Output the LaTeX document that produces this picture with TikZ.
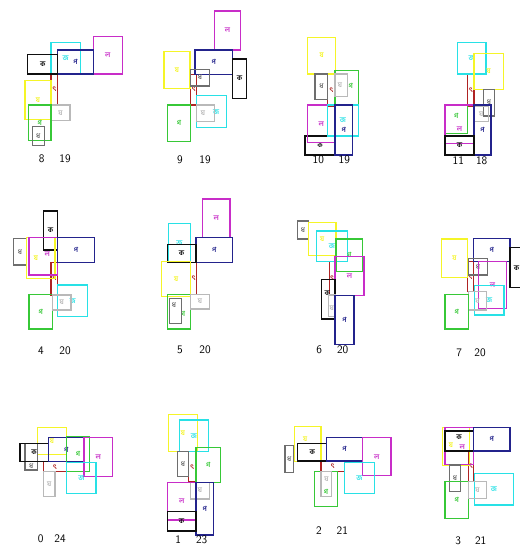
\documentclass[tikz,border=0pt]{standalone}
\usepackage{fontspec}
\newfontfamily\bnfont[Script=Bengali]{Hind Siliguri}
\usetikzlibrary{calc}
\definecolor{rmblk}{RGB}{15,15,15}
\definecolor{rmcya}{RGB}{40,225,230}
\definecolor{rmnav}{RGB}{35,35,140}
\definecolor{rmmag}{RGB}{200,45,200}
\definecolor{rmyel}{RGB}{245,245,40}
\definecolor{rmgrn}{RGB}{55,200,55}
\definecolor{rmgry}{RGB}{110,110,110}
\definecolor{rmlgr}{RGB}{185,185,185}
\definecolor{rmred}{RGB}{175,35,35}
\tikzset{every picture/.style={line width=1pt},
  rmline/.style={line width=1.4pt},
  glyph/.style={font=\bnfont\bfseries\fontsize{7}{7}\selectfont, inner sep=0pt},
  lbl/.style={font=\sffamily\fontsize{11.5}{12}\selectfont, inner sep=0pt}}
% one room: [glyph shift], name, colour, corners, glyph
\newcommand{\rmbox}[8][]{%
  \draw[#3, rmline] (#4,#5) rectangle (#6,#7);
  \node[glyph, text=#3, #1] (#2) at ({(#4+#6)/2},{(#5+#7)/2}) {#8};}

\begin{document}
\begin{tikzpicture}[x=1pt,y=-1pt]
    \fill[white] (0,0) rectangle (520,547);
    \useasboundingbox (0,0) rectangle (520,547);
    % 8 19
    \rmbox{p8red}{rmred}{51}{74}{57.7}{105}{ৎ}
    \rmbox{p8mag}{rmmag}{93.3}{36.7}{122.3}{74}{ল}
    \rmbox{p8cya}{rmcya}{51}{42.7}{80.3}{74}{জ}
    \rmbox{p8nav}{rmnav}{57.7}{50}{93.3}{74}{প}
    \rmbox{p8blk}{rmblk}{27.7}{54.3}{57.7}{74}{ক}
    \rmbox{p8yel}{rmyel}{25}{80.7}{51}{119.3}{য}
    \rmbox{p8lgr}{rmlgr}{51}{105}{70}{120.7}{ঘ}
    \rmbox{p8grn}{rmgrn}{28.3}{105}{51}{140.7}{গ}
    \rmbox{p8gry}{rmgry}{32.3}{126.7}{44.3}{145.7}{ধ}
    \node[lbl] (n8a) at (41.7,158.3) {8};
    \node[lbl] (n8b) at (65,158.3) {19};
    % 9 19
    \rmbox{p9red}{rmred}{190.7}{74.3}{196.7}{105}{ৎ}
    \rmbox{p9mag}{rmmag}{214.3}{11}{240.7}{50}{ল}
    \rmbox{p9nav}{rmnav}{195}{50}{232.3}{74.3}{প}
    \rmbox{p9blk}{rmblk}{232.3}{59}{246.7}{98.3}{ক}
    \rmbox{p9yel}{rmyel}{164}{51.7}{190}{88.3}{য}
    \rmbox{p9gry}{rmgry}{190.7}{69.3}{209.3}{86}{ধ}
    \rmbox{p9grn}{rmgrn}{167.3}{105}{190.7}{141.7}{গ}
    \rmbox[shift={(4.5,0)}]{p9cya}{rmcya}{196.7}{95.7}{226.7}{127.7}{জ}
    \rmbox[shift={(-2.5,0)}]{p9lgr}{rmlgr}{196.7}{105}{214.3}{121.7}{ঘ}
    \node[lbl] (n9a) at (180,160) {9};
    \node[lbl] (n9b) at (205,160) {19};
    % 10 19
    \rmbox{p10red}{rmred}{327.7}{74}{335}{106}{ৎ}
    \rmbox{p10yel}{rmyel}{307.7}{37.3}{335.7}{74}{য}
    \rmbox{p10gry}{rmgry}{315}{74}{327.7}{99.3}{ধ}
    \rmbox[shift={(4,-2)}]{p10grn}{rmgrn}{335}{70.7}{358.3}{105}{গ}
    \rmbox[shift={(-1.5,0)}]{p10lgr}{rmlgr}{335}{74}{347.7}{96.7}{ঘ}
    \rmbox{p10blk}{rmblk}{305}{136}{335}{155}{ক}
    \rmbox{p10mag}{rmmag}{307.7}{105}{335}{142.7}{ল}
    \rmbox{p10cya}{rmcya}{327.7}{105}{358.3}{136}{জ}
    \rmbox{p10nav}{rmnav}{335}{105}{352.3}{155}{প}
    \node[lbl] (n10a) at (318.3,160) {10};
    \node[lbl] (n10b) at (344.3,160) {19};
    % 11 18
    \rmbox{p11red}{rmred}{467.7}{74}{474}{106}{ৎ}
    \rmbox{p11cya}{rmcya}{457.3}{42.7}{486}{74}{জ}
    \rmbox{p11yel}{rmyel}{474}{53.3}{503.3}{89.3}{য}
    \rmbox{p11gry}{rmgry}{483.3}{89.3}{494.3}{116}{ধ}
    \rmbox{p11lgr}{rmlgr}{474}{106}{488.3}{121.7}{ঘ}
    \rmbox[shift={(0,-3)}]{p11grn}{rmgrn}{445}{105}{467.7}{133.3}{গ}
    \rmbox[shift={(0,5)}]{p11mag}{rmmag}{445}{105}{474}{143.3}{ল}
    \rmbox{p11nav}{rmnav}{474}{105}{491}{155}{প}
    \rmbox{p11blk}{rmblk}{445}{136}{474}{155}{ক}
    \node[lbl] (n11a) at (458.3,160.7) {11};
    \node[lbl] (n11b) at (481.7,160.7) {18};
    % 4 20
    \rmbox{p4red}{rmred}{51}{262.3}{57.7}{295}{ৎ}
    \rmbox{p4blk}{rmblk}{43.3}{211}{57.7}{250}{ক}
    \rmbox{p4gry}{rmgry}{13.3}{238.3}{26.7}{265}{ধ}
    \rmbox[shift={(-5,0)}]{p4yel}{rmyel}{26.7}{237.7}{55}{278.3}{য}
    \rmbox[shift={(4,-2)}]{p4mag}{rmmag}{29}{237.7}{57.7}{275}{ল}
    \rmbox{p4nav}{rmnav}{57.7}{237.7}{94.3}{262.3}{প}
    \rmbox{p4grn}{rmgrn}{29}{294.3}{52.3}{329}{গ}
    \rmbox{p4cya}{rmcya}{57.7}{285}{87.7}{316.7}{জ}
    \rmbox{p4lgr}{rmlgr}{52.3}{295}{71}{310}{ঘ}
    \node[lbl] (n4a) at (41,351) {4};
    \node[lbl] (n4b) at (65,351) {20};
    % 5 20
    \rmbox{p5red}{rmred}{190.7}{262.3}{196.7}{294.3}{ৎ}
    \rmbox{p5mag}{rmmag}{202.7}{199}{230}{237.7}{ল}
    \rmbox{p5nav}{rmnav}{196}{237.7}{232.7}{262.3}{প}
    \rmbox{p5cya}{rmcya}{168.3}{223.3}{190.7}{262.3}{জ}
    \rmbox{p5blk}{rmblk}{167.3}{244.3}{196}{262.3}{ক}
    \rmbox{p5yel}{rmyel}{161.7}{261.7}{190.7}{296.7}{য}
    \rmbox[shift={(4,2)}]{p5grn}{rmgrn}{167.3}{294.3}{190.7}{329}{গ}
    \rmbox[shift={(-1.5,-6)}]{p5gry}{rmgry}{169.3}{298.3}{181.7}{323.3}{ধ}
    \rmbox{p5lgr}{rmlgr}{190.7}{294.3}{209.3}{309}{ঘ}
    \node[lbl] (n5a) at (180,350) {5};
    \node[lbl] (n5b) at (205,350) {20};
    % 6 20
    \rmbox{p6red}{rmred}{329.3}{261.7}{335}{295}{ৎ}
    \rmbox{p6gry}{rmgry}{297.3}{221}{308.3}{239}{ধ}
    \rmbox{p6yel}{rmyel}{308.3}{222.3}{336}{255.7}{য}
    \rmbox{p6cya}{rmcya}{316.7}{231}{347.3}{261.7}{জ}
    \rmbox{p6grn}{rmgrn}{336}{239}{362.7}{271.7}{গ}
    \rmbox{p6mag}{rmmag}{335}{256.7}{364}{295.7}{ল}
    \rmbox[shift={(-1,-6)}]{p6blk}{rmblk}{321.7}{279.3}{335}{319}{ক}
    \rmbox[shift={(0,2.5)}]{p6lgr}{rmlgr}{328.3}{295}{335}{316.7}{ঘ}
    \rmbox{p6nav}{rmnav}{335}{295.7}{354}{344.3}{প}
    \node[lbl] (n6a) at (319.3,350) {6};
    \node[lbl] (n6b) at (342.7,350) {20};
    % 7 20
    \rmbox{p7red}{rmred}{467.3}{261.7}{473.3}{291.7}{ৎ}
    \rmbox{p7yel}{rmyel}{441.7}{239}{467.3}{277.7}{য}
    \rmbox{p7nav}{rmnav}{473.3}{238.3}{510}{261.7}{প}
    \rmbox{p7blk}{rmblk}{510}{247.7}{523}{287.7}{ক}
    \rmbox{p7gry}{rmgry}{468.3}{258.3}{487.3}{275}{ধ}
    \rmbox{p7mag}{rmmag}{478.3}{261.7}{506.7}{308.3}{ল}
    \rmbox{p7cya}{rmcya}{474.3}{285.7}{504}{315}{জ}
    \rmbox{p7lgr}{rmlgr}{468.3}{291.7}{486.7}{310}{ঘ}
    \rmbox{p7grn}{rmgrn}{445}{294.3}{468.3}{329}{গ}
    \node[lbl] (n7a) at (459.3,352.3) {7};
    \node[lbl] (n7b) at (480,352.3) {20};
    % 0 24
    \rmbox{p0red}{rmred}{43.3}{461.7}{66.7}{471.7}{ৎ}
    \rmbox{p0yel}{rmyel}{37.3}{427.7}{66.7}{454.3}{য}
    \rmbox[shift={(0,9.5)}]{p0gry}{rmgry}{25}{443.3}{37.3}{470}{ধ}
    \rmbox{p0blk}{rmblk}{20}{443.3}{48.3}{461.7}{ক}
    \rmbox{p0nav}{rmnav}{48.3}{437.7}{84}{461.7}{প}
    \rmbox{p0grn}{rmgrn}{66.7}{436.7}{89.3}{471.7}{গ}
    \rmbox{p0mag}{rmmag}{84}{437.7}{112.7}{476.7}{ল}
    \rmbox{p0cya}{rmcya}{66.7}{462.3}{96}{493.3}{জ}
    \rmbox{p0lgr}{rmlgr}{43.3}{471.7}{55}{496.7}{ঘ}
    \node[lbl] (n0a) at (40.7,539) {0};
    \node[lbl] (n0b) at (60,539) {24};
    % 1 23
    \rmbox{p1red}{rmred}{188.3}{451.7}{196}{481.7}{ৎ}
    \rmbox{p1yel}{rmyel}{168.3}{414.3}{197.3}{451.7}{য}
    \rmbox{p1cya}{rmcya}{179.3}{420}{208.3}{451.7}{জ}
    \rmbox{p1gry}{rmgry}{177.3}{451.7}{188.3}{476.7}{ধ}
    \rmbox{p1grn}{rmgrn}{196}{447.7}{220.7}{482.3}{গ}
    \rmbox{p1lgr}{rmlgr}{190.7}{482.3}{209.3}{499}{ঘ}
    \rmbox{p1mag}{rmmag}{167.3}{482.3}{196}{520}{ল}
    \rmbox{p1nav}{rmnav}{196}{482.3}{213.3}{535}{প}
    \rmbox{p1blk}{rmblk}{167.3}{511.7}{196}{531}{ক}
    \node[lbl] (n1a) at (178.3,540) {1};
    \node[lbl] (n1b) at (201.7,540) {23};
    % 2 21
    \rmbox{p2red}{rmred}{321}{461}{344.3}{471.7}{ৎ}
    \rmbox{p2gry}{rmgry}{285}{445.7}{293.3}{472.3}{ধ}
    \rmbox[shift={(-2.5,-5)}]{p2yel}{rmyel}{294.3}{426.7}{321}{461.7}{য}
    \rmbox{p2blk}{rmblk}{297.7}{443.3}{326.7}{461}{ক}
    \rmbox{p2nav}{rmnav}{326.7}{437.7}{362.3}{461}{প}
    \rmbox{p2mag}{rmmag}{362.3}{437.7}{391}{475.7}{ল}
    \rmbox{p2cya}{rmcya}{344.3}{462.3}{374.3}{493.3}{জ}
    \rmbox[shift={(0,3)}]{p2grn}{rmgrn}{314.3}{471.7}{337.7}{506.7}{গ}
    \rmbox[shift={(0,-5)}]{p2lgr}{rmlgr}{321}{471.7}{331.7}{496.7}{ঘ}
    \node[lbl] (n2a) at (319,531) {2};
    \node[lbl] (n2b) at (342.3,531) {21};
    % 3 21
    \rmbox{p3red}{rmred}{468.3}{451}{473.3}{481.7}{ৎ}
    \rmbox[shift={(-5,-2)}]{p3yel}{rmyel}{442.7}{427.7}{469.3}{465.7}{য}
    \rmbox[shift={(3,1)}]{p3mag}{rmmag}{445}{427.7}{473.3}{464.3}{ল}
    \rmbox[shift={(0,-4)}]{p3blk}{rmblk}{445}{431}{473.3}{451}{ক}
    \rmbox{p3nav}{rmnav}{473.3}{427.7}{510}{451}{প}
    \rmbox{p3gry}{rmgry}{449.3}{465}{460.7}{491.7}{ধ}
    \rmbox{p3grn}{rmgrn}{445}{481.7}{468.3}{518.3}{গ}
    \rmbox{p3cya}{rmcya}{474.3}{473.3}{513.3}{505}{জ}
    \rmbox{p3lgr}{rmlgr}{468.3}{481.7}{486.7}{498.3}{ঘ}
    \node[lbl] (n3a) at (458.3,541) {3};
    \node[lbl] (n3b) at (480.7,541) {21};
\end{tikzpicture}
\end{document}
